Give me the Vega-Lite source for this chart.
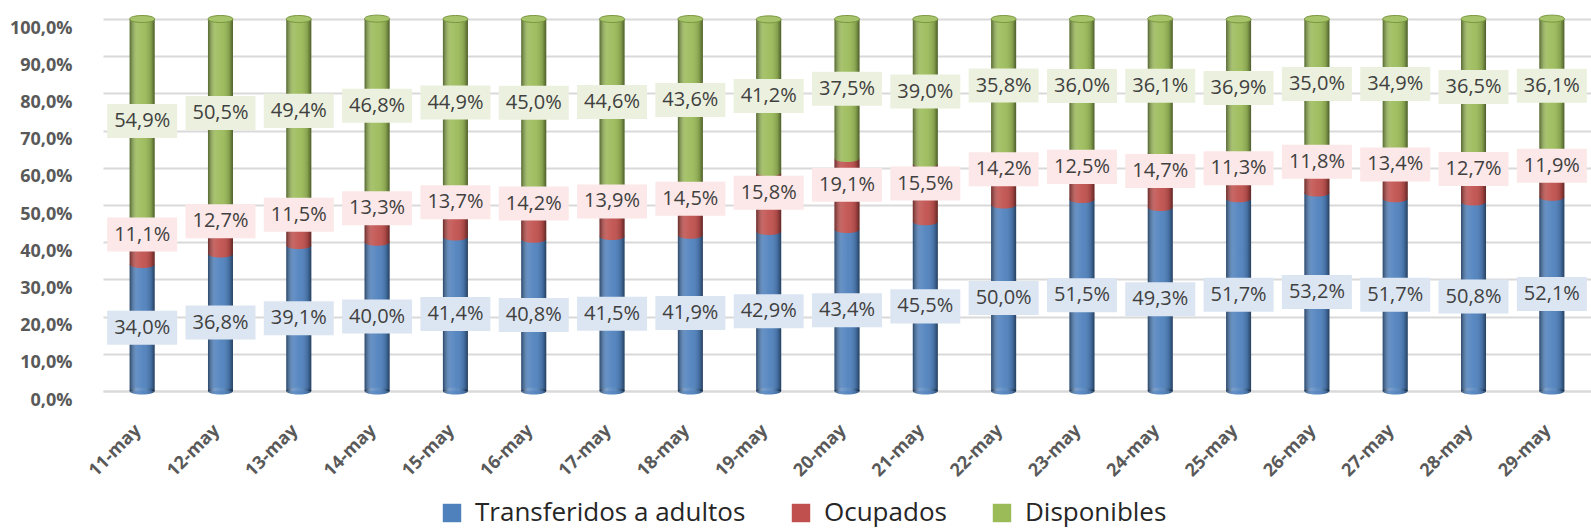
{
  "$schema": "https://vega.github.io/schema/vega-lite/v6.json",
  "width": 1488,
  "height": 372,
  "autosize": {"type": "none"},
  "padding": {"left": 103, "top": 19, "right": 0, "bottom": 141},
  "background": "white",
  "config": {
    "view": {"stroke": null},
    "font": "Open Sans",
    "locale": {"number": {"decimal": ",", "thousands": ".", "grouping": [3], "currency": ["", " €"]}},
    "axisY": {
      "tickCount": 11, "labelFontSize": 18, "labelFontWeight": "bold", "labelColor": "#595959", "labelOverlap": false,
      "labelPadding": 31, "labelOffset": 9, "ticks": false, "domain": false,
      "gridColor": "#D9D9D9", "gridWidth": 2
    }
  },
  "data": {"values": [
    {"fecha":"11-may","serie":"Transferidos a adultos","valor":0.340},{"fecha":"11-may","serie":"Ocupados","valor":0.111},{"fecha":"11-may","serie":"Disponibles","valor":0.549},
    {"fecha":"12-may","serie":"Transferidos a adultos","valor":0.368},{"fecha":"12-may","serie":"Ocupados","valor":0.127},{"fecha":"12-may","serie":"Disponibles","valor":0.505},
    {"fecha":"13-may","serie":"Transferidos a adultos","valor":0.391},{"fecha":"13-may","serie":"Ocupados","valor":0.115},{"fecha":"13-may","serie":"Disponibles","valor":0.494},
    {"fecha":"14-may","serie":"Transferidos a adultos","valor":0.400},{"fecha":"14-may","serie":"Ocupados","valor":0.133},{"fecha":"14-may","serie":"Disponibles","valor":0.468},
    {"fecha":"15-may","serie":"Transferidos a adultos","valor":0.414},{"fecha":"15-may","serie":"Ocupados","valor":0.137},{"fecha":"15-may","serie":"Disponibles","valor":0.449},
    {"fecha":"16-may","serie":"Transferidos a adultos","valor":0.408},{"fecha":"16-may","serie":"Ocupados","valor":0.142},{"fecha":"16-may","serie":"Disponibles","valor":0.450},
    {"fecha":"17-may","serie":"Transferidos a adultos","valor":0.415},{"fecha":"17-may","serie":"Ocupados","valor":0.139},{"fecha":"17-may","serie":"Disponibles","valor":0.446},
    {"fecha":"18-may","serie":"Transferidos a adultos","valor":0.419},{"fecha":"18-may","serie":"Ocupados","valor":0.145},{"fecha":"18-may","serie":"Disponibles","valor":0.436},
    {"fecha":"19-may","serie":"Transferidos a adultos","valor":0.429},{"fecha":"19-may","serie":"Ocupados","valor":0.158},{"fecha":"19-may","serie":"Disponibles","valor":0.412},
    {"fecha":"20-may","serie":"Transferidos a adultos","valor":0.434},{"fecha":"20-may","serie":"Ocupados","valor":0.191},{"fecha":"20-may","serie":"Disponibles","valor":0.375},
    {"fecha":"21-may","serie":"Transferidos a adultos","valor":0.455},{"fecha":"21-may","serie":"Ocupados","valor":0.155},{"fecha":"21-may","serie":"Disponibles","valor":0.390},
    {"fecha":"22-may","serie":"Transferidos a adultos","valor":0.500},{"fecha":"22-may","serie":"Ocupados","valor":0.142},{"fecha":"22-may","serie":"Disponibles","valor":0.358},
    {"fecha":"23-may","serie":"Transferidos a adultos","valor":0.515},{"fecha":"23-may","serie":"Ocupados","valor":0.125},{"fecha":"23-may","serie":"Disponibles","valor":0.360},
    {"fecha":"24-may","serie":"Transferidos a adultos","valor":0.493},{"fecha":"24-may","serie":"Ocupados","valor":0.147},{"fecha":"24-may","serie":"Disponibles","valor":0.361},
    {"fecha":"25-may","serie":"Transferidos a adultos","valor":0.517},{"fecha":"25-may","serie":"Ocupados","valor":0.113},{"fecha":"25-may","serie":"Disponibles","valor":0.369},
    {"fecha":"26-may","serie":"Transferidos a adultos","valor":0.532},{"fecha":"26-may","serie":"Ocupados","valor":0.118},{"fecha":"26-may","serie":"Disponibles","valor":0.350},
    {"fecha":"27-may","serie":"Transferidos a adultos","valor":0.517},{"fecha":"27-may","serie":"Ocupados","valor":0.134},{"fecha":"27-may","serie":"Disponibles","valor":0.349},
    {"fecha":"28-may","serie":"Transferidos a adultos","valor":0.508},{"fecha":"28-may","serie":"Ocupados","valor":0.127},{"fecha":"28-may","serie":"Disponibles","valor":0.365},
    {"fecha":"29-may","serie":"Transferidos a adultos","valor":0.521},{"fecha":"29-may","serie":"Ocupados","valor":0.119},{"fecha":"29-may","serie":"Disponibles","valor":0.361}
  ]},
  "transform": [
    {"calculate": "indexof(['Transferidos a adultos','Ocupados','Disponibles'], datum.serie)", "as": "orden"},
    {"stack": "valor", "groupby": ["fecha"], "sort": [{"field": "orden", "order": "ascending"}], "as": ["y0", "y1"]},
    {"calculate": "(datum.y0 + datum.y1) / 2 + (datum.serie == 'Ocupados' ? 0.025 : 0)", "as": "ymid"}
  ],
  "encoding": {
    "x": {
      "field": "fecha", "type": "nominal", "sort": null,
      "scale": {"paddingInner": 0, "paddingOuter": 0},
      "axis": {
        "title": null, "labelAngle": -45, "labelFontSize": 18, "labelFontWeight": "bold",
        "labelColor": "#595959", "labelPadding": 30, "labelOffset": -10, "ticks": false,
        "domainColor": "#D9D9D9", "domainWidth": 2
      }
    }
  },
  "layer": [
    {
      "mark": {"type": "bar", "width": 25},
      "encoding": {
        "y": {
          "field": "y1", "type": "quantitative",
          "scale": {"domain": [0, 1], "nice": false},
          "axis": {"title": null, "values": [0,0.1,0.2,0.3,0.4,0.5,0.6,0.7,0.8,0.9,1.0], "tickCount": 11, "format": ".1%"}
        },
        "y2": {"field": "y0"},
        "color": {
          "field": "serie", "type": "nominal",
          "scale": {"domain": ["Transferidos a adultos", "Ocupados", "Disponibles"], "range": ["#4F81BD", "#C0504D", "#9BBB59"]},
          "legend": {
            "title": null, "orient": "none", "direction": "horizontal",
            "legendX": 336, "legendY": 481,
            "symbolType": "square", "symbolSize": 340, "symbolStrokeWidth": 0,
            "labelFontSize": 26, "labelColor": "#262626", "labelOffset": 10, "columnPadding": 42,
            "labelLimit": 400
          }
        }
      }
    },
    {
      "mark": {"type": "point", "shape": "M-1,0A1,0.28,0,1,0,1,0A1,0.28,0,1,0,-1,0Z", "size": 625, "filled": true, "opacity": 1},
      "encoding": {
        "y": {"field": "y0", "type": "quantitative"},
        "color": {"field": "serie", "type": "nominal", "legend": null}
      }
    },
    {
      "transform": [{"filter": "datum.serie == 'Disponibles'"}],
      "mark": {
        "type": "bar", "width": 25,
        "fill": {"gradient": "linear", "x1": 0, "y1": 0, "x2": 1, "y2": 0, "stops": [
          {"offset": 0, "color": "rgba(0,0,0,0.45)"},
          {"offset": 0.3, "color": "rgba(255,255,255,0.12)"},
          {"offset": 0.55, "color": "rgba(255,255,255,0.05)"},
          {"offset": 0.85, "color": "rgba(0,0,0,0.15)"},
          {"offset": 1, "color": "rgba(0,0,0,0.5)"}
        ]}
      },
      "encoding": {
        "y": {"field": "y1", "type": "quantitative"},
        "y2": {"datum": 0}
      }
    },
    {
      "transform": [{"filter": "datum.serie == 'Transferidos a adultos'"}],
      "mark": {
        "type": "point", "shape": "M-1,0A1,0.28,0,1,0,1,0A1,0.28,0,1,0,-1,0Z", "size": 625, "filled": true, "opacity": 1,
        "fill": {"gradient": "linear", "x1": 0, "y1": 0, "x2": 1, "y2": 0, "stops": [
          {"offset": 0, "color": "rgba(0,0,0,0.45)"},
          {"offset": 0.3, "color": "rgba(255,255,255,0.12)"},
          {"offset": 0.55, "color": "rgba(255,255,255,0.05)"},
          {"offset": 0.85, "color": "rgba(0,0,0,0.15)"},
          {"offset": 1, "color": "rgba(0,0,0,0.5)"}
        ]}
      },
      "encoding": {
        "y": {"field": "y0", "type": "quantitative"}
      }
    },
    {
      "transform": [{"filter": "datum.serie == 'Disponibles'"}],
      "mark": {"type": "point", "shape": "M-1,0A1,0.28,0,1,0,1,0A1,0.28,0,1,0,-1,0Z", "size": 625, "filled": true, "opacity": 1, "fill": "#A6C46A", "stroke": "#7A9640", "strokeWidth": 1},
      "encoding": {
        "y": {"field": "y1", "type": "quantitative"}
      }
    },
    {
      "mark": {"type": "point", "shape": "M-1,-0.486H1V0.486H-1Z", "size": 4900, "filled": true, "opacity": 1},
      "encoding": {
        "y": {"field": "ymid", "type": "quantitative"},
        "fill": {
          "field": "serie", "type": "nominal", "legend": null,
          "scale": {"domain": ["Transferidos a adultos", "Ocupados", "Disponibles"], "range": ["#DCE6F2", "#FCE8E8", "#EBF1DE"]}
        }
      }
    },
    {
      "mark": {"type": "text", "fontSize": 20, "color": "#404040", "baseline": "middle", "align": "center"},
      "encoding": {
        "y": {"field": "ymid", "type": "quantitative"},
        "text": {"field": "valor", "type": "quantitative", "format": ".1%"}
      }
    }
  ]
}
